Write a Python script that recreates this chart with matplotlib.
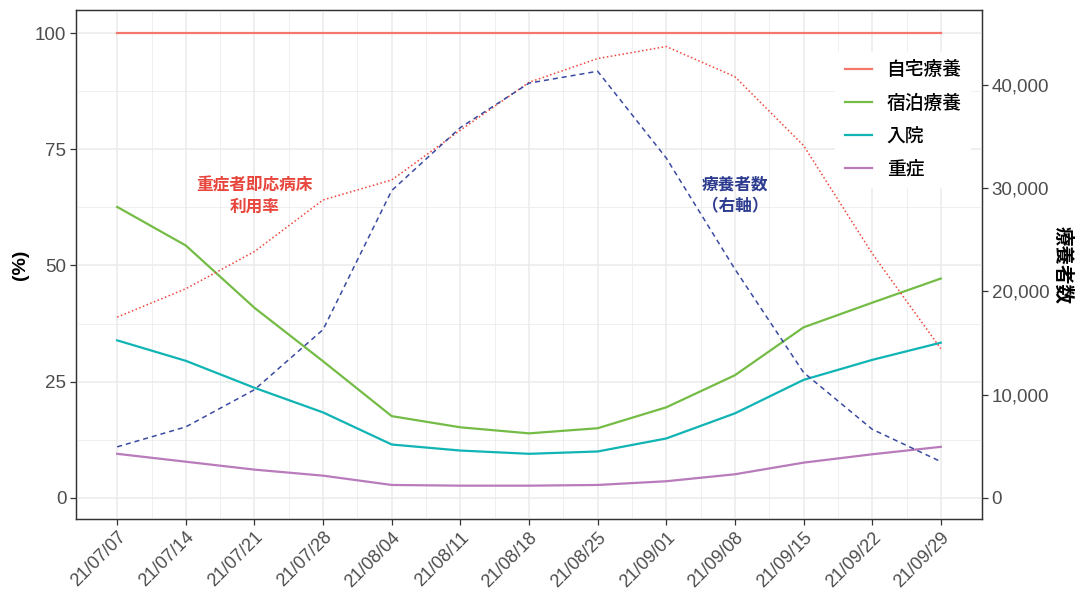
import matplotlib
matplotlib.use('Agg')
import matplotlib.pyplot as plt
import numpy as np
import pandas as pd

plt.rcParams['font.family'] = ['Liberation Sans', 'Noto Sans CJK JP', 'DejaVu Sans']

dates = pd.date_range('2021-07-07', '2021-09-29', freq='7D')
home = [100] * 13
hotel = [62.6, 54.3, 40.9, 29.4, 17.6, 15.2, 13.9, 15.0, 19.5, 26.4, 36.7, 42.0, 47.2]
hospital = [33.9, 29.5, 23.7, 18.4, 11.5, 10.2, 9.5, 10.0, 12.8, 18.2, 25.4, 29.7, 33.4]
severe = [9.5, 7.8, 6.1, 4.8, 2.8, 2.65, 2.65, 2.8, 3.6, 5.1, 7.6, 9.4, 11.0]
bed_rate = [38.9, 45.0, 53.0, 64.1, 68.4, 79.1, 89.4, 94.5, 97.1, 90.6, 75.8, 52.6, 32.1]
patients = [4950, 6880, 10480, 16300, 29760, 35850, 40150, 41300, 32900, 22150, 12150, 6650, 3520]
right_ticks = [0, 10000, 20000, 30000, 40000]

SCALE = 450  # right axis units per percent

fig = plt.figure(figsize=(10.82, 5.96), dpi=100)
ax = fig.add_axes([76/1082, 1-519/596, 906/1082, 509/596])

ax.plot(dates, home, color='#F4776B', lw=1.6, label='自宅療養', zorder=3)
ax.plot(dates, hotel, color='#74BC45', lw=1.6, label='宿泊療養', zorder=3)
ax.plot(dates, hospital, color='#10B4B4', lw=1.6, label='入院', zorder=3)
ax.plot(dates, severe, color='#B97BBB', lw=1.6, label='重症', zorder=3)
ax.plot(dates, bed_rate, color='#F0463C', lw=1.1, ls=(0, (1, 1.6)), zorder=3)
ax.plot(dates, np.array(patients) / SCALE, color='#3A4AA0', lw=1.1,
        ls=(0, (3.3, 2.6)), zorder=3)

ax.set_ylim(-4.52, 104.95)
pad = pd.Timedelta(days=4.2)
ax.set_xlim(dates[0] - pad, dates[-1] + pad)

ax.set_xticks(dates)
ax.set_xticklabels([d.strftime('%y/%m/%d') for d in dates], rotation=45,
                   ha='right', va='top', rotation_mode='anchor')
ax.set_xticks(dates[:-1] + pd.Timedelta(days=3.5), minor=True)
ax.set_yticks([0, 25, 50, 75, 100])
ax.set_yticks([12.5, 37.5, 62.5, 87.5], minor=True)

ax.grid(True, which='major', color='#EBEBEB', lw=1.1, zorder=0)
ax.grid(True, which='minor', color='#EBEBEB', lw=0.55, zorder=0)
ax.set_axisbelow(True)
ax.tick_params(which='major', length=4, width=0.9, color='#333333',
               labelsize=13.5, labelcolor='#4D4D4D', pad=3)
ax.tick_params(axis='x', labelsize=13)
ax.tick_params(which='minor', length=0)
for s in ax.spines.values():
    s.set_color('#333333')
    s.set_linewidth(0.9)
ax.set_ylabel('(%)', fontsize=14, fontweight='bold', labelpad=4)

ax2 = ax.twinx()
ax2.set_ylim(-4.52 * SCALE, 104.95 * SCALE)
ax2.set_yticks(right_ticks)
ax2.set_yticklabels([f'{v:,}' for v in right_ticks])
ax2.tick_params(length=4, width=0.9, color='#333333', labelsize=13.5,
                labelcolor='#4D4D4D', pad=3)
for s in ax2.spines.values():
    s.set_color('#333333')
    s.set_linewidth(0.9)
ax2.set_ylabel('療養者数', fontsize=14, fontweight='bold', rotation=-90,
               labelpad=16)

ax.text(dates[2], 65, '重症者即応病床\n利用率', color='#E8453C',
        fontsize=12, fontweight='bold', ha='center', va='center', linespacing=1.45)
ax.text(dates[9], 65, '療養者数\n（右軸）', color='#2E3C90',
        fontsize=12, fontweight='bold', ha='center', va='center', linespacing=1.45)

leg = ax.legend(loc='upper left', bbox_to_anchor=(0.838, 0.918), frameon=True,
                prop={'size': 13.5, 'weight': 'medium'}, handlelength=1.44,
                handletextpad=0.8, labelspacing=0.82, borderpad=0.5,
                borderaxespad=0)
leg.get_frame().set_edgecolor('none')
leg.get_frame().set_facecolor('white')
leg.get_frame().set_alpha(1)
leg.set_zorder(5)
ax.set_zorder(ax2.get_zorder() + 1)
ax.patch.set_visible(False)

fig.savefig('out.png', dpi=100)
